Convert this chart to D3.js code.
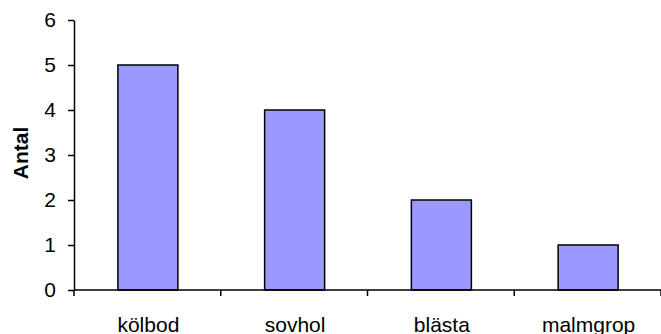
<!DOCTYPE html>
<html>
<head>
<meta charset="utf-8">
<script src="https://cdn.jsdelivr.net/npm/d3@7"></script>
<style>
  html, body { margin: 0; padding: 0; background: #fff; }
  svg { display: block; font-family: "Liberation Sans", Arial, sans-serif; }
</style>
</head>
<body>
<svg id="chart" width="661" height="334"></svg>
<script>
// Antal per kategori
const categories = ["kölbod", "sovhol", "blästa", "malmgrop"];
const counts = [5, 4, 2, 1];
const yTicks = [0, 1, 2, 3, 4, 5, 6];

const svg = d3.select("#chart");
const plotLeft = 74, plotRight = 661, plotTop = 20, plotBottom = 290;

const x = d3.scaleBand().domain(categories).range([plotLeft, plotRight]).paddingInner(0).paddingOuter(0);
const y = d3.scaleLinear().domain([0, 6]).range([plotBottom, plotTop]);

const barW = 60;

// Bars
svg.append("g").selectAll("rect")
  .data(categories)
  .join("rect")
  .attr("x", (d) => x(d) + x.bandwidth() / 2 - barW / 2 + 0.5)
  .attr("y", (d, i) => y(counts[i]))
  .attr("width", barW)
  .attr("height", (d, i) => y(0) - y(counts[i]))
  .attr("fill", "#9999ff")
  .attr("stroke", "#000")
  .attr("stroke-width", 1.5);

// Y axis
const yAxis = svg.append("g")
  .attr("transform", `translate(${plotLeft},0)`)
  .call(d3.axisLeft(y).tickValues(yTicks).tickFormat(d3.format("d")).tickSizeInner(6).tickSizeOuter(0).tickPadding(12));
yAxis.select(".domain").attr("stroke", "#000").attr("stroke-width", 1.5);
yAxis.selectAll(".tick line").attr("stroke", "#000").attr("stroke-width", 1.5);
yAxis.selectAll(".tick text").attr("font-size", 21).attr("fill", "#000")
  .attr("font-family", "Liberation Sans, Arial, sans-serif");

// X axis: ticks between categories
const xAxis = svg.append("g").attr("transform", `translate(0,${plotBottom})`);
xAxis.append("line")
  .attr("x1", plotLeft).attr("x2", plotRight)
  .attr("stroke", "#000").attr("stroke-width", 1.5);
const boundaries = categories.map((d) => x(d)).concat([plotRight]);
xAxis.selectAll("line.tick")
  .data(boundaries)
  .join("line")
  .attr("class", "tick")
  .attr("x1", (d) => d).attr("x2", (d) => d)
  .attr("y1", 0).attr("y2", 6)
  .attr("stroke", "#000").attr("stroke-width", 1.5);
xAxis.selectAll("text")
  .data(categories)
  .join("text")
  .attr("x", (d) => x(d) + x.bandwidth() / 2 + 1)
  .attr("y", 42)
  .attr("text-anchor", "middle")
  .attr("font-size", 21)
  .attr("fill", "#000")
  .text((d) => d);

// Y axis title
svg.append("text")
  .attr("transform", "translate(28,153) rotate(-90)")
  .attr("text-anchor", "middle")
  .attr("font-size", 21)
  .attr("font-weight", "bold")
  .attr("fill", "#000")
  .text("Antal");
</script>
</body>
</html>
